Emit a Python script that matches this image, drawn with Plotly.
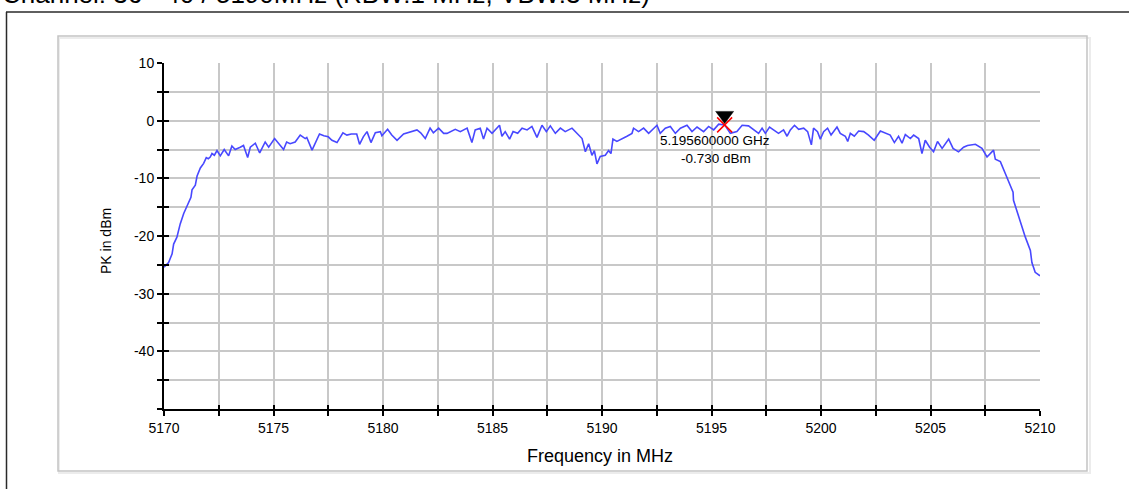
import plotly.graph_objects as go

# ---- data ----
freq_mhz = [
    5170.00, 5170.21, 5170.37, 5170.44, 5170.59, 5170.74, 5170.90, 5171.08, 5171.23, 5171.28,
    5171.43, 5171.51, 5171.66, 5171.81, 5171.93, 5172.02, 5172.11, 5172.19, 5172.30, 5172.42,
    5172.57, 5172.75, 5172.95, 5173.10, 5173.25, 5173.48, 5173.63, 5173.82, 5173.94, 5174.17,
    5174.37, 5174.62, 5174.78, 5175.05, 5175.25, 5175.46, 5175.60, 5175.76, 5175.99, 5176.22,
    5176.45, 5176.52, 5176.76, 5176.99, 5177.10, 5177.30, 5177.50, 5177.67, 5177.90, 5178.17,
    5178.35, 5178.55, 5178.80, 5178.93, 5179.10, 5179.27, 5179.45, 5179.65, 5179.88, 5179.95,
    5180.21, 5180.40, 5180.64, 5180.94, 5181.25, 5181.55, 5181.72, 5181.93, 5182.15, 5182.30,
    5182.54, 5182.77, 5182.92, 5183.30, 5183.53, 5183.84, 5184.06, 5184.21, 5184.44, 5184.59,
    5184.75, 5184.98, 5185.32, 5185.43, 5185.58, 5185.78, 5185.94, 5186.15, 5186.35, 5186.58,
    5186.80, 5187.03, 5187.26, 5187.46, 5187.64, 5187.87, 5188.10, 5188.32, 5188.63, 5188.86,
    5189.09, 5189.24, 5189.39, 5189.54, 5189.65, 5189.77, 5189.92, 5190.15, 5190.30, 5190.41,
    5190.50, 5190.68, 5190.91, 5191.14, 5191.37, 5191.44, 5191.67, 5191.90, 5192.13, 5192.36,
    5192.51, 5192.66, 5192.89, 5193.12, 5193.35, 5193.58, 5193.88, 5194.11, 5194.34, 5194.64,
    5194.87, 5195.10, 5195.33, 5195.60, 5195.86, 5196.16, 5196.40, 5196.69, 5196.92, 5197.15,
    5197.31, 5197.46, 5197.65, 5197.84, 5198.06, 5198.29, 5198.45, 5198.60, 5198.79, 5198.98,
    5199.21, 5199.39, 5199.56, 5199.66, 5199.84, 5199.97, 5200.12, 5200.30, 5200.46, 5200.73,
    5200.88, 5201.11, 5201.22, 5201.34, 5201.52, 5201.72, 5201.95, 5202.17, 5202.43, 5202.71,
    5202.94, 5203.16, 5203.35, 5203.54, 5203.70, 5203.85, 5204.08, 5204.23, 5204.46, 5204.61,
    5204.76, 5204.96, 5205.14, 5205.32, 5205.53, 5205.83, 5206.03, 5206.28, 5206.51, 5206.69,
    5207.05, 5207.35, 5207.58, 5207.73, 5207.88, 5207.96, 5208.19, 5208.42, 5208.57, 5208.77,
    5208.79, 5208.98, 5209.18, 5209.33, 5209.56, 5209.63, 5209.78, 5210.00,
]
level_dbm = [
    -25.4, -24.6, -23.1, -21.4, -20.2, -17.9, -16.1, -14.7, -13.3, -12.0,
    -11.2, -9.6, -8.2, -7.4, -6.4, -6.6, -6.3, -5.7, -6.0, -5.2,
    -6.1, -5.0, -6.1, -4.4, -5.0, -4.6, -4.3, -6.4, -4.6, -3.9,
    -5.6, -3.7, -4.6, -3.1, -4.0, -5.0, -3.7, -4.0, -3.7, -2.5,
    -3.1, -2.9, -5.1, -3.0, -2.3, -2.6, -2.8, -3.4, -3.8, -2.1,
    -2.5, -2.3, -2.3, -4.1, -2.8, -1.9, -3.8, -2.1, -1.9, -2.6,
    -1.5, -2.5, -3.4, -2.3, -1.9, -1.6, -2.1, -3.1, -1.3, -2.1,
    -1.3, -2.2, -2.2, -1.5, -1.9, -1.3, -3.8, -1.6, -1.3, -3.2,
    -1.3, -2.2, -0.8, -2.7, -1.9, -3.2, -1.9, -2.2, -1.3, -1.6,
    -1.0, -2.9, -0.8, -1.9, -0.9, -2.2, -1.3, -1.9, -1.3, -2.2,
    -3.1, -5.4, -4.0, -6.0, -5.2, -7.5, -6.2, -6.0, -5.2, -5.7,
    -3.2, -3.6, -3.2, -2.7, -2.2, -1.3, -1.9, -1.3, -2.2, -1.3,
    -0.8, -2.2, -1.3, -1.0, -2.2, -1.3, -0.8, -1.9, -1.1, -1.9,
    -1.0, -1.6, -0.6, -0.73, -2.2, -1.9, -0.8, -0.9, -1.6, -2.2,
    -1.3, -2.2, -1.1, -1.6, -2.2, -1.6, -2.7, -1.6, -0.8, -1.5,
    -1.3, -1.9, -4.2, -1.3, -1.9, -3.2, -1.9, -1.3, -2.5, -1.1,
    -2.2, -2.7, -3.6, -2.2, -2.7, -1.8, -1.9, -2.5, -3.4, -1.8,
    -2.2, -2.5, -3.8, -2.7, -3.9, -2.4, -3.1, -2.5, -3.1, -5.7,
    -3.4, -4.6, -5.4, -3.6, -4.8, -3.2, -4.8, -5.4, -4.6, -4.3,
    -4.1, -4.8, -6.3, -5.6, -5.1, -6.7, -7.1, -9.2, -10.6, -12.4,
    -13.8, -16.1, -18.2, -20.2, -22.5, -24.6, -26.3, -26.9,
]

marker_freq_mhz = [5195.6]
marker_level_dbm = [-0.73]
marker_labels = ["5.195600000 GHz", "-0.730 dBm"]

x_tick_vals = [5170, 5172.5, 5175, 5177.5, 5180, 5182.5, 5185, 5187.5, 5190,
               5192.5, 5195, 5197.5, 5200, 5202.5, 5205, 5207.5, 5210]
x_tick_text = ["5170", "", "5175", "", "5180", "", "5185", "", "5190",
               "", "5195", "", "5200", "", "5205", "", "5210"]
y_tick_vals = [-50, -45, -40, -35, -30, -25, -20, -15, -10, -5, 0, 5, 10]
y_tick_text = ["", "", "-40", "", "-30", "", "-20", "", "-10", "", "0", "", "10"]

title_text = "Channel: 36 - 40 / 5190MHz (RBW:1 MHz, VBW:3 MHz)"
x_title = "Frequency in MHz"
y_title = "PK in dBm"

# ---- layout geometry ----
W, H = 1129, 489
ML, MR, MT, MB = 164, 89, 63, 80
PW = W - ML - MR
PH = H - MT - MB
FONT = "Arial, 'Liberation Sans', sans-serif"


def px2x(px):
    return (px - ML) / PW


def py2y(py):
    return (H - MB - py) / PH


fig = go.Figure()
fig.add_trace(go.Scatter(
    x=freq_mhz, y=level_dbm, mode="lines",
    line=dict(color="#4848ff", width=1.6), hoverinfo="x+y", showlegend=False,
))
fig.add_trace(go.Scatter(
    x=marker_freq_mhz, y=marker_level_dbm, mode="markers",
    marker=dict(symbol="x-thin", size=15, line=dict(color="red", width=1.5)),
    showlegend=False, hoverinfo="skip",
))
# invisible trace for the inner-tick overlay axes
fig.add_trace(go.Scatter(x=[x_tick_vals[0]], y=[y_tick_vals[0]], xaxis="x2", yaxis="y2",
                         mode="markers", marker=dict(opacity=0), showlegend=False,
                         hoverinfo="skip"))

ax_common = dict(tickfont=dict(family=FONT, size=14, color="black"),
                 ticks="outside", ticklen=5, tickwidth=1.5, tickcolor="black",
                 showgrid=True, gridcolor="#c8c8c8", gridwidth=1.5,
                 showline=True, linecolor="black", zeroline=False)

fig.update_layout(
    width=W, height=H,
    margin=dict(l=ML, r=MR, t=MT, b=MB, pad=0),
    paper_bgcolor="white", plot_bgcolor="white",
    xaxis=dict(range=[5170, 5210], tickmode="array", tickvals=x_tick_vals,
               ticktext=x_tick_text, linewidth=1.5, **ax_common),
    yaxis=dict(range=[-50, 10], tickmode="array", tickvals=y_tick_vals,
               ticktext=y_tick_text, linewidth=2, **ax_common),
    xaxis2=dict(range=[5170, 5210], overlaying="x", anchor="y2", side="bottom",
                tickmode="array", tickvals=x_tick_vals, ticks="inside", ticklen=4,
                tickwidth=1.5, tickcolor="black", showticklabels=False,
                showgrid=False, showline=False, zeroline=False),
    yaxis2=dict(range=[-50, 10], overlaying="y", anchor="x2", side="left",
                tickmode="array", tickvals=y_tick_vals, ticks="inside", ticklen=5,
                tickwidth=1.5, tickcolor="black", showticklabels=False,
                showgrid=False, showline=False, zeroline=False),
    showlegend=False,
)

shapes = [
    # outer grey chart frame + faint shadow
    dict(type="rect", xref="paper", yref="paper", x0=px2x(59), x1=px2x(1090),
         y0=py2y(473), y1=py2y(38), line=dict(color="#ececec", width=2), layer="below"),
    dict(type="rect", xref="paper", yref="paper", x0=px2x(58), x1=px2x(1087),
         y0=py2y(471), y1=py2y(36), line=dict(color="#c4c4c4", width=1.5), layer="below"),
    # black document frame lines
    dict(type="line", xref="paper", yref="paper", x0=px2x(6), x1=px2x(1135),
         y0=py2y(12), y1=py2y(12), line=dict(color="#2a2a2a", width=1.5)),
    dict(type="line", xref="paper", yref="paper", x0=px2x(6.5), x1=px2x(6.5),
         y0=py2y(12), y1=py2y(495), line=dict(color="#2a2a2a", width=1.5)),
    # marker triangle (pixel-sized, anchored at the marker point)
    dict(type="path", xref="x", yref="y", xsizemode="pixel", ysizemode="pixel",
         xanchor=marker_freq_mhz[0], yanchor=marker_level_dbm[0],
         path="M-9,13.5 L9,13.5 L0,1.5 Z", fillcolor="black",
         line=dict(color="black", width=0.5), layer="above"),
]
fig.update_layout(shapes=shapes)

annotations = [
    dict(text=title_text, xref="paper", yref="paper", x=px2x(0), y=py2y(11.5),
         xanchor="left", yanchor="bottom", showarrow=False,
         font=dict(family=FONT, size=26, color="black")),
    dict(text=x_title, xref="paper", yref="paper", x=px2x(600), y=py2y(456),
         xanchor="center", yanchor="middle", showarrow=False,
         font=dict(family=FONT, size=18, color="black")),
    dict(text=y_title, xref="paper", yref="paper", x=px2x(106), y=py2y(241),
         xanchor="center", yanchor="middle", showarrow=False, textangle=-90,
         font=dict(family=FONT, size=14, color="black")),
    dict(text=marker_labels[0], x=marker_freq_mhz[0], y=marker_level_dbm[0],
         xref="x", yref="y", xshift=-9.5, yshift=-16, showarrow=False,
         xanchor="center", yanchor="middle",
         font=dict(family=FONT, size=13.5, color="black")),
    dict(text=marker_labels[1], x=marker_freq_mhz[0], y=marker_level_dbm[0],
         xref="x", yref="y", xshift=-8.5, yshift=-34, showarrow=False,
         xanchor="center", yanchor="middle",
         font=dict(family=FONT, size=13.5, color="black")),
]
fig.update_layout(annotations=annotations)

# the reference page has no body margin around the chart
fig.write_html("out.html", config={"displayModeBar": False},
               post_script="document.body.style.margin='0';document.body.style.padding='0';")
